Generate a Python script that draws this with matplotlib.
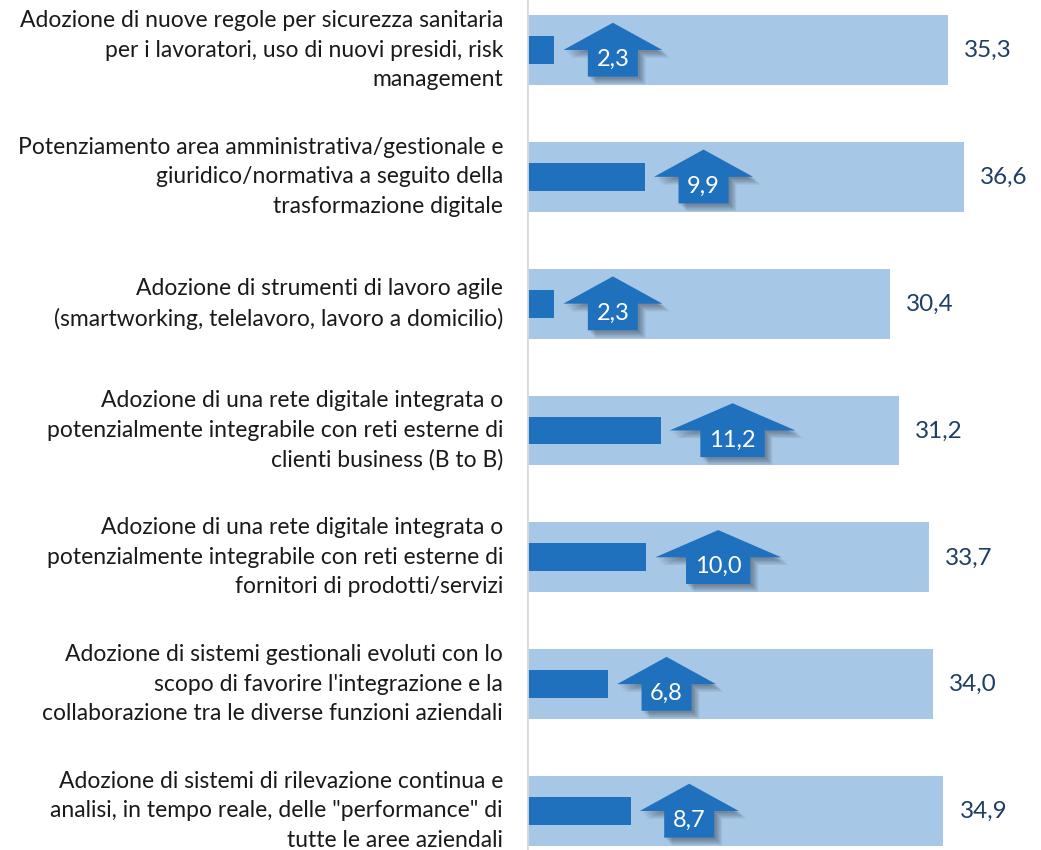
import matplotlib
matplotlib.use("Agg")
import matplotlib.pyplot as plt
from matplotlib.patches import Polygon
import matplotlib.patheffects as pe

categories = [
    "Adozione di nuove regole per sicurezza sanitaria\nper i lavoratori, uso di nuovi presidi, risk\nmanagement",
    "Potenziamento area amministrativa/gestionale e\ngiuridico/normativa a seguito della\ntrasformazione digitale",
    "Adozione di strumenti di lavoro agile\n(smartworking, telelavoro, lavoro a domicilio)",
    "Adozione di una rete digitale integrata o\npotenzialmente integrabile con reti esterne di\nclienti business (B to B)",
    "Adozione di una rete digitale integrata o\npotenzialmente integrabile con reti esterne di\nfornitori di prodotti/servizi",
    "Adozione di sistemi gestionali evoluti con lo\nscopo di favorire l'integrazione e la\ncollaborazione tra le diverse funzioni aziendali",
    "Adozione di sistemi di rilevazione continua e\nanalisi, in tempo reale, delle \"performance\" di\ntutte le aree aziendali",
]
total_values = [35.3, 36.6, 30.4, 31.2, 33.7, 34.0, 34.9]
sub_values = [2.3, 9.9, 2.3, 11.2, 10.0, 6.8, 8.7]

def fmt(v):
    return f"{v:.1f}".replace(".", ",")

LIGHT = "#A7C7E6"
DARK = "#1F71BE"
NAVY = "#1F3F66"
FONT = "Lato"

fig = plt.figure(figsize=(10.41, 8.5), dpi=100)
ax = fig.add_axes([527 / 1041, 0, 1 - 527 / 1041, 1])
n = len(categories)
ys = list(range(n))
ax.set_xlim(0, (1041 - 527) / 11.93)
ax.set_ylim(n - 1 + 39 / 126.8, -50 / 126.8)

ax.barh(ys, total_values, height=0.55, color=LIGHT, zorder=1)
ax.barh(ys, sub_values, height=0.22, color=DARK, zorder=2)

shadow_fx = [pe.SimplePatchShadow(offset=(d, -d), alpha=0.07,
                                  shadow_rgbFace="#000000")
             for d in (1.5, 2.5, 3.5, 4.5, 5.5)] + [pe.Normal()]

for y, tv, sv, lab in zip(ys, total_values, sub_values, categories):
    ax.text(tv + 1.35, y + 0.005, fmt(tv), ha="left", va="center", fontsize=17.5,
            color=NAVY, family=FONT)
    s = fmt(sv)
    if len(s) > 3:
        w, st = 10.56, 5.4
    else:
        w, st = 8.3, 4.2
    x0 = sv + 0.75
    cx = x0 + w / 2
    pts = [(x0, y), (cx, y - 0.215), (x0 + w, y), (cx + st / 2, y),
           (cx + st / 2, y + 0.21), (cx - st / 2, y + 0.21), (cx - st / 2, y)]
    poly = Polygon(pts, closed=True, facecolor=DARK, edgecolor="none", zorder=3)
    poly.set_path_effects(shadow_fx)
    ax.add_patch(poly)
    ax.text(cx, y + 0.075, s, ha="center", va="center", fontsize=17,
            color="white", family=FONT, zorder=4)
    ax.text(-24 / 11.93, y, lab, ha="right", va="center", fontsize=16.5,
            color="#1a1a1a", family=FONT, linespacing=1.5, clip_on=False)

ax.axvline(0, color="#D9D9D9", lw=2, zorder=5)
for s in ax.spines.values():
    s.set_visible(False)
ax.set_xticks([])
ax.set_yticks([])
ax.patch.set_alpha(0)

fig.savefig("out.png", dpi=100, facecolor="white")
